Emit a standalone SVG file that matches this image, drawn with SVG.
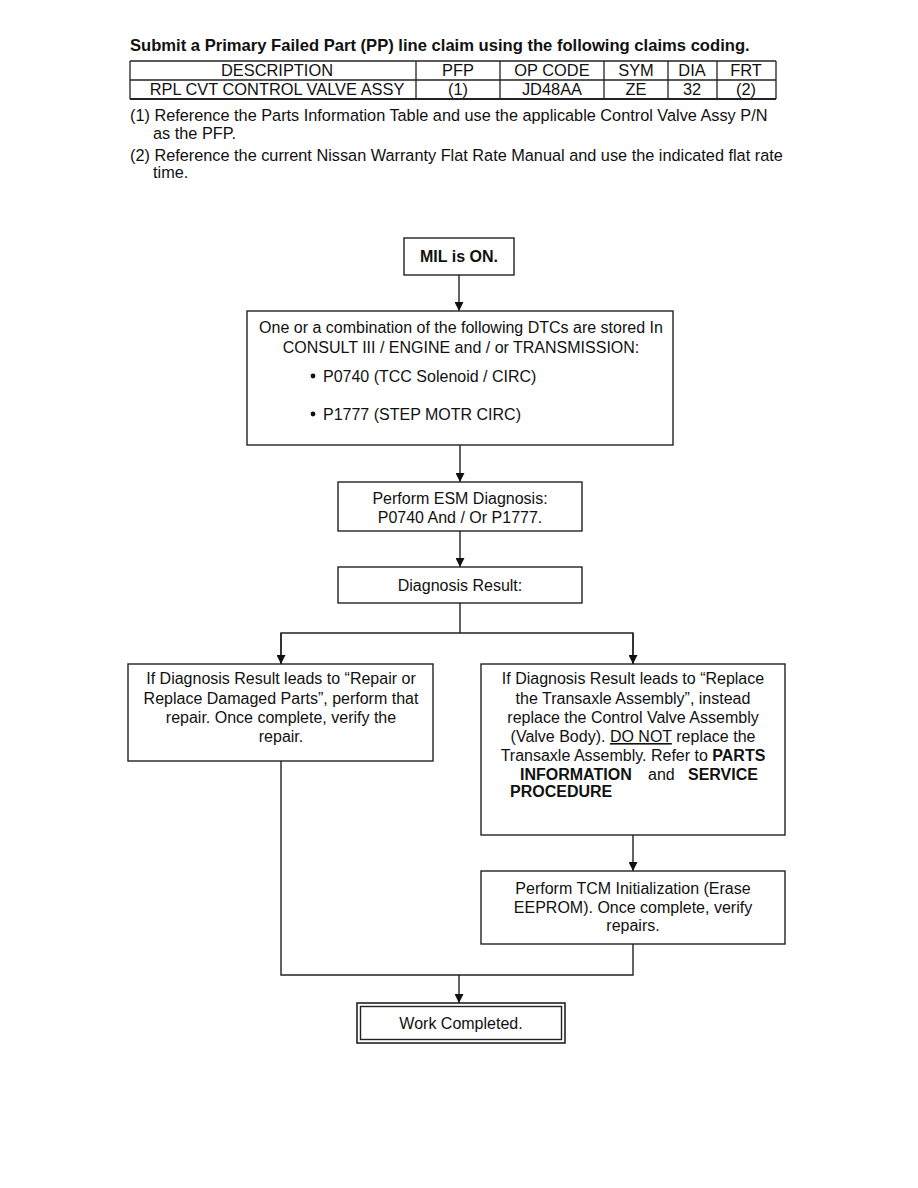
<svg xmlns="http://www.w3.org/2000/svg" width="918" height="1188" viewBox="0 0 918 1188">
<defs>
<style>
text{font-family:"Liberation Sans",Arial,sans-serif;font-size:16px;fill:#111}
.b{font-weight:bold}
.c{text-anchor:middle}
.tt{font-size:16.6px}
.tb{font-size:16.4px}
.nt{font-size:16.3px}
.box{fill:#fff;stroke:#222;stroke-width:1.4}
.ln{fill:none;stroke:#222;stroke-width:1.4}
.tl{stroke:#222;stroke-width:1.3}
</style>
<marker id="ad" markerWidth="9" markerHeight="10" refX="4.5" refY="9" orient="0" markerUnits="userSpaceOnUse" viewBox="0 0 9 10">
<path d="M0,0 L9,0 L4.5,9 Z" fill="#111"/>
</marker>
</defs>
<rect width="918" height="1188" fill="#fff"/>

<g id="header">
<text class="b tt" x="130" y="51">Submit a Primary Failed Part (PP) line claim using the following claims coding.</text>
<g id="table">
<line class="tl" x1="130" y1="61" x2="776" y2="61"/>
<line class="tl" x1="130" y1="80" x2="776" y2="80"/>
<line x1="130" y1="99" x2="776" y2="99" stroke="#222" stroke-width="2.2"/>
<line class="tl" x1="130" y1="61" x2="130" y2="99"/>
<line class="tl" x1="416" y1="61" x2="416" y2="99"/>
<line class="tl" x1="500" y1="61" x2="500" y2="99"/>
<line class="tl" x1="604" y1="61" x2="604" y2="99"/>
<line class="tl" x1="668" y1="61" x2="668" y2="99"/>
<line class="tl" x1="717" y1="61" x2="717" y2="99"/>
<line class="tl" x1="776" y1="61" x2="776" y2="99"/>
<text class="c tb" x="277" y="76">DESCRIPTION</text>
<text class="c tb" x="458" y="76">PFP</text>
<text class="c tb" x="552" y="76">OP CODE</text>
<text class="c tb" x="636" y="76">SYM</text>
<text class="c tb" x="692" y="76">DIA</text>
<text class="c tb" x="746" y="76">FRT</text>
<text class="c tb" x="277" y="95">RPL CVT CONTROL VALVE ASSY</text>
<text class="c tb" x="458" y="95">(1)</text>
<text class="c tb" x="552" y="95">JD48AA</text>
<text class="c tb" x="636" y="95">ZE</text>
<text class="c tb" x="692" y="95">32</text>
<text class="c tb" x="746" y="95">(2)</text>
</g>
<text class="nt" x="130" y="121">(1) Reference the Parts Information Table and use the applicable Control Valve Assy P/N</text>
<text class="nt" x="153" y="139">as the PFP.</text>
<text class="nt" x="130" y="161">(2) Reference the current Nissan Warranty Flat Rate Manual and use the indicated flat rate</text>
<text class="nt" x="153" y="178">time.</text>
</g>

<g id="connectors">
<line class="ln" x1="459" y1="275" x2="459" y2="311" marker-end="url(#ad)"/>
<line class="ln" x1="460" y1="445" x2="460" y2="482" marker-end="url(#ad)"/>
<line class="ln" x1="460" y1="531" x2="460" y2="567" marker-end="url(#ad)"/>
<polyline class="ln" points="460,603 460,633"/>
<polyline class="ln" points="281,664 281,633 633,633 633,664"/>
<line class="ln" x1="281" y1="633" x2="281" y2="664" marker-end="url(#ad)"/>
<line class="ln" x1="633" y1="633" x2="633" y2="664" marker-end="url(#ad)"/>
<line class="ln" x1="633" y1="835" x2="633" y2="871" marker-end="url(#ad)"/>
<polyline class="ln" points="281,761 281,975 633,975 633,944"/>
<line class="ln" x1="459" y1="975" x2="459" y2="1003" marker-end="url(#ad)"/>
</g>

<g id="n-mil">
<rect class="box" x="404" y="238" width="110" height="37"/>
<text class="b c" x="459" y="262">MIL is ON.</text>
</g>

<g id="n-dtc">
<rect class="box" x="247" y="311" width="426" height="134"/>
<text class="c" x="461" y="333">One or a combination of the following DTCs are stored In</text>
<text class="c" x="461" y="353">CONSULT III / ENGINE and / or TRANSMISSION:</text>
<circle cx="313" cy="376" r="2.4" fill="#111"/>
<text x="323" y="382">P0740 (TCC Solenoid / CIRC)</text>
<circle cx="313" cy="414" r="2.4" fill="#111"/>
<text x="323" y="420">P1777 (STEP MOTR CIRC)</text>
</g>

<g id="n-esm">
<rect class="box" x="338" y="482" width="244" height="49"/>
<text class="c" x="460" y="504">Perform ESM Diagnosis:</text>
<text class="c" x="460" y="523">P0740 And / Or P1777.</text>
</g>

<g id="n-result">
<rect class="box" x="338" y="567" width="244" height="36"/>
<text class="c" x="460" y="591">Diagnosis Result:</text>
</g>

<g id="n-repair">
<rect class="box" x="128" y="664" width="305" height="97"/>
<text class="c" x="281" y="684">If Diagnosis Result leads to “Repair or</text>
<text class="c" x="281" y="704">Replace Damaged Parts”, perform that</text>
<text class="c" x="281" y="723">repair. Once complete, verify the</text>
<text class="c" x="281" y="742">repair.</text>
</g>

<g id="n-replace">
<rect class="box" x="481" y="664" width="304" height="171"/>
<text class="c" x="633" y="684">If Diagnosis Result leads to “Replace</text>
<text class="c" x="633" y="704">the Transaxle Assembly”, instead</text>
<text class="c" x="633" y="723">replace the Control Valve Assembly</text>
<text class="c" x="633" y="742">(Valve Body). <tspan text-decoration="underline">DO NOT</tspan> replace the</text>
<text class="c" x="633" y="761">Transaxle Assembly. Refer to <tspan class="b">PARTS</tspan></text>
<text class="b" x="520" y="780">INFORMATION</text>
<text x="648" y="780">and</text>
<text class="b" x="688" y="780">SERVICE</text>
<text class="b" x="510" y="797">PROCEDURE</text>
</g>

<g id="n-tcm">
<rect class="box" x="481" y="871" width="304" height="73"/>
<text class="c" x="633" y="894">Perform TCM Initialization (Erase</text>
<text class="c" x="633" y="913">EEPROM). Once complete, verify</text>
<text class="c" x="633" y="931">repairs.</text>
</g>

<g id="n-done">
<rect x="357" y="1003" width="208" height="40" fill="#fff" stroke="#222" stroke-width="1.6"/>
<rect x="360.5" y="1006.5" width="201" height="33" fill="none" stroke="#222" stroke-width="1.4"/>
<text class="c" x="461" y="1029">Work Completed.</text>
</g>
</svg>
